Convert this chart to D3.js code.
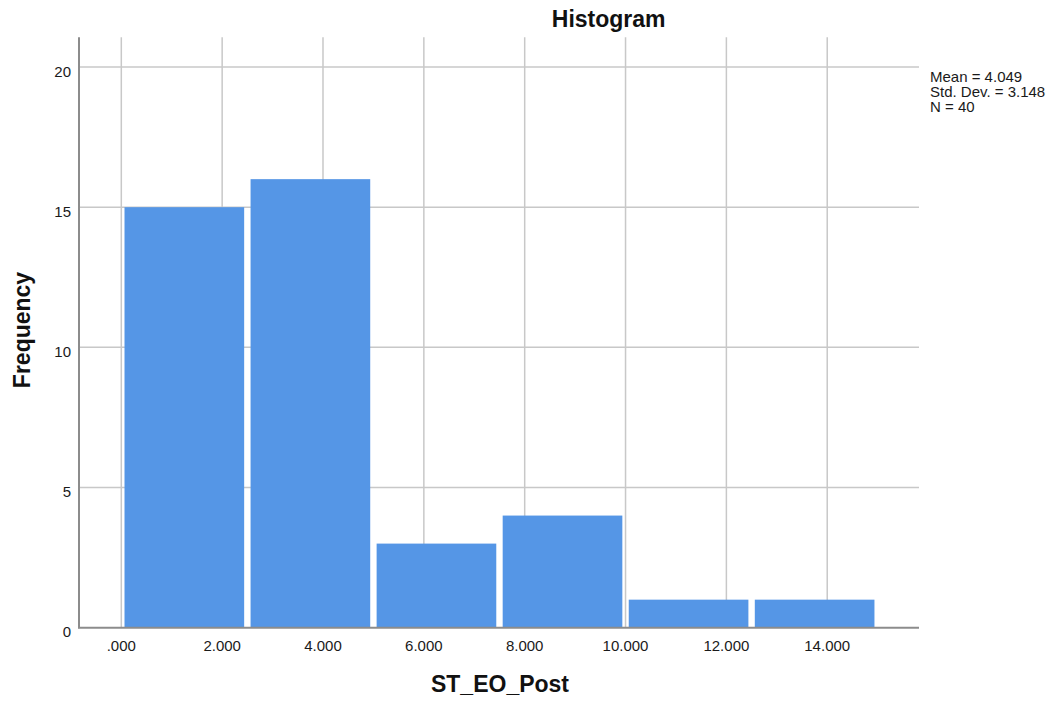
<!DOCTYPE html>
<html><head><meta charset="utf-8">
<script src="https://cdn.jsdelivr.net/npm/d3@7"></script>
<style>body{margin:0;background:#fff}svg{display:block}text{font-family:"Liberation Sans",Arial,sans-serif}</style>
</head><body><svg id="c" width="1058" height="706"></svg>
<script>
const binStarts = [0, 2.5, 5, 7.5, 10, 12.5];
const binWidth = 2.5;
const frequencies = [15, 16, 3, 4, 1, 1];
const xTicks = [0, 2, 4, 6, 8, 10, 12, 14];
const xTickLabels = [".000", "2.000", "4.000", "6.000", "8.000", "10.000", "12.000", "14.000"];
const yTicks = [0, 5, 10, 15, 20];
const statsLines = ["Mean = 4.049", "Std. Dev. = 3.148", "N = 40"];
const title = "Histogram", xTitle = "ST_EO_Post", yTitle = "Frequency";

const svg = d3.select("#c");
const L = 79, R = 919, T = 37.3, B = 627.7;
const x = d3.scaleLinear().domain([-0.839, 15.82]).range([L, R]);
const y = d3.scaleLinear().domain([0, 21.06]).range([B, T]);

// gridlines
svg.append("g").selectAll("line").data(xTicks).join("line")
  .attr("x1", d => x(d)).attr("x2", d => x(d)).attr("y1", T).attr("y2", B)
  .attr("stroke", "#c8c8c8").attr("stroke-width", 1.5);
svg.append("g").selectAll("line").data(yTicks.filter(d => d > 0)).join("line")
  .attr("x1", L).attr("x2", R).attr("y1", d => y(d)).attr("y2", d => y(d))
  .attr("stroke", "#c8c8c8").attr("stroke-width", 1.5);

// bars
const bins = binStarts.map((s, i) => ({x0: s, x1: s + binWidth, v: frequencies[i]}));
svg.append("g").selectAll("rect").data(bins).join("rect")
  .attr("x", d => x(d.x0) + 3.2).attr("width", d => x(d.x1) - x(d.x0) - 6.4)
  .attr("y", d => y(d.v)).attr("height", d => B - y(d.v))
  .attr("fill", "#5596e6");

// axes lines
svg.append("line").attr("x1", L).attr("x2", L).attr("y1", T).attr("y2", B + 0.5)
  .attr("stroke", "#8c8c8c").attr("stroke-width", 2);
svg.append("line").attr("x1", L - 1).attr("x2", R).attr("y1", B).attr("y2", B)
  .attr("stroke", "#8c8c8c").attr("stroke-width", 2);

// tick labels
svg.append("g").selectAll("text").data(yTicks).join("text")
  .attr("x", 71).attr("y", d => y(d) + 9.5).attr("text-anchor", "end")
  .attr("font-size", 15).attr("fill", "#1a1a1a").text(d => d);
svg.append("g").selectAll("text").data(xTicks).join("text")
  .attr("x", d => x(d)).attr("y", 650.7).attr("text-anchor", "middle")
  .attr("font-size", 15).attr("fill", "#1a1a1a").text((d, i) => xTickLabels[i]);

// titles
svg.append("text").attr("x", 608.7).attr("y", 26.7).attr("text-anchor", "middle")
  .attr("font-size", 23).attr("font-weight", "bold").attr("fill", "#111").text(title);
svg.append("text").attr("x", 500).attr("y", 692.3).attr("text-anchor", "middle")
  .attr("font-size", 23).attr("font-weight", "bold").attr("fill", "#111").text(xTitle);
svg.append("text").attr("transform", "translate(30,330) rotate(-90)").attr("text-anchor", "middle")
  .attr("font-size", 23).attr("font-weight", "bold").attr("fill", "#111").text(yTitle);

// stats
svg.append("g").selectAll("text").data(statsLines).join("text")
  .attr("x", 930).attr("y", (d, i) => 82.3 + i * 15).attr("font-size", 15)
  .attr("fill", "#1a1a1a").text(d => d);
</script></body></html>
